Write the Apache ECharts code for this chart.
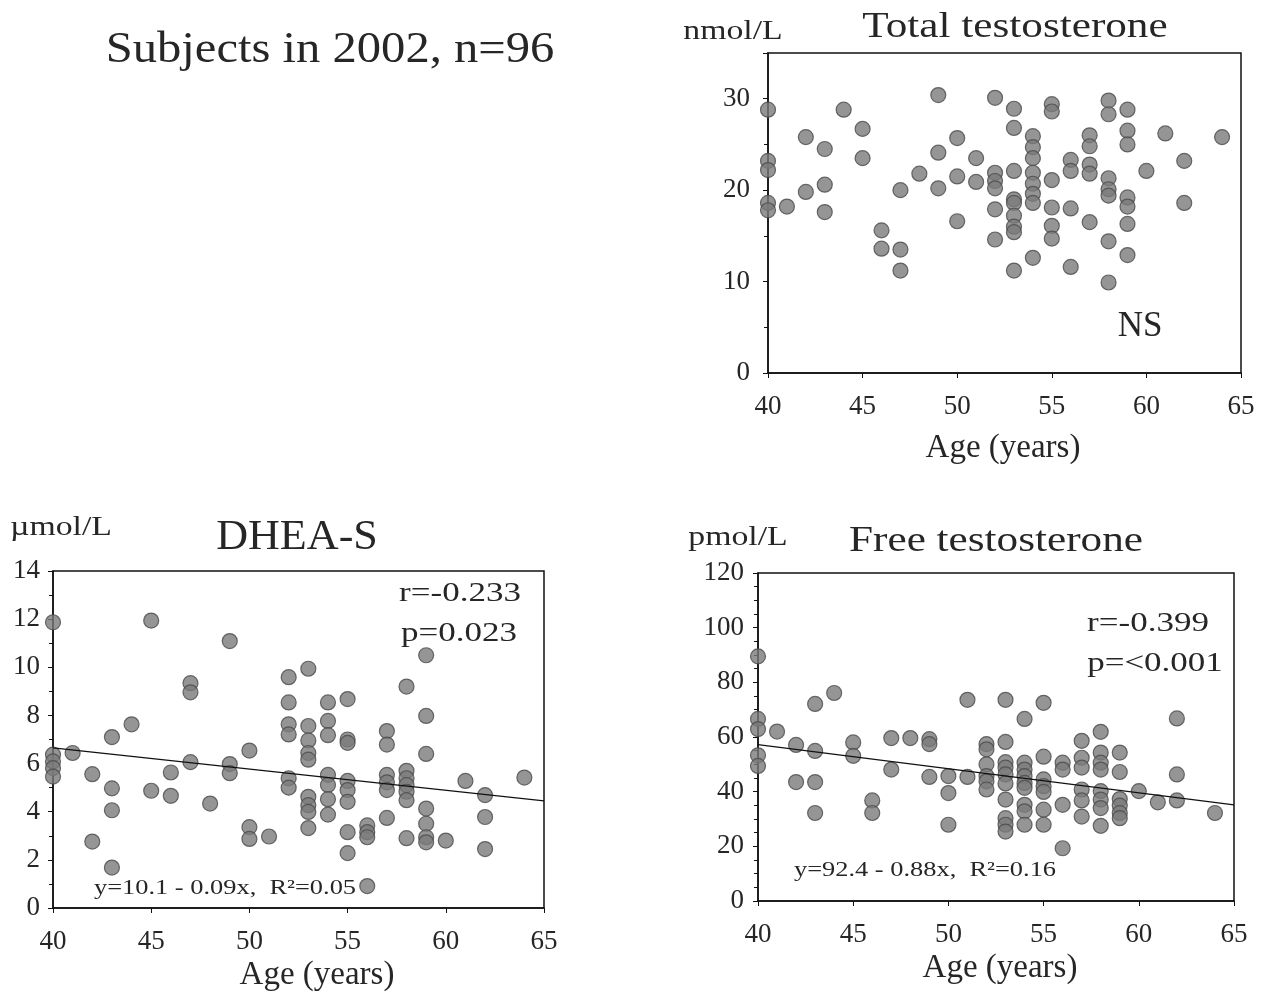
<!DOCTYPE html>
<html>
<head>
<meta charset="utf-8">
<style>
  html, body { margin: 0; padding: 0; background: #fff; }
  #chart { width: 1263px; height: 994px; }
</style>
<script src="https://cdn.jsdelivr.net/npm/echarts@6/dist/echarts.min.js"></script>
</head>
<body>
<div id="chart"></div>
<script>
// ages 40..65, values
const ageTicks = [40, 45, 50, 55, 60, 65];

const totalT = [
  [40, 28.8], [40, 23.2], [40, 22.2], [40, 18.6], [40, 17.8], [41, 18.2],
  [42, 25.8], [42, 19.8], [43, 24.5], [43, 20.6], [43, 17.6], [44, 28.8],
  [45, 26.7], [45, 23.5], [46, 15.6], [46, 13.6], [47, 13.5], [47, 11.2],
  [47, 20.0], [48, 21.8], [49, 30.4], [49, 24.1], [49, 20.2], [50, 25.7],
  [50, 21.5], [50, 16.6], [51, 23.5], [51, 20.9], [52, 30.1], [52, 21.9],
  [52, 21.0], [52, 20.2], [52, 17.9], [52, 14.6], [53, 28.9], [53, 26.8],
  [53, 22.1], [53, 19.0], [53, 18.6], [53, 17.2], [53, 16.0], [53, 15.4],
  [53, 11.2], [54, 25.9], [54, 24.7], [54, 23.5], [54, 21.9], [54, 20.7],
  [54, 19.6], [54, 18.6], [54, 12.6], [55, 29.4], [55, 28.6], [55, 21.1],
  [55, 18.1], [55, 16.1], [55, 14.7], [56, 23.3], [56, 22.1], [56, 18.0],
  [56, 11.6], [57, 26.0], [57, 24.8], [57, 22.8], [57, 21.8], [57, 16.5],
  [58, 29.8], [58, 28.3], [58, 21.3], [58, 20.1], [58, 19.4], [58, 14.4],
  [58, 9.9], [59, 28.8], [59, 26.5], [59, 25.0], [59, 19.2], [59, 18.2],
  [59, 16.3], [59, 12.9], [60, 22.1], [61, 26.2], [62, 23.2], [62, 18.6],
  [64, 25.8]
];

const dheas = [
  [40, 11.87], [40, 6.37], [40, 6.09], [40, 5.81], [40, 5.46], [41, 6.44],
  [42, 5.56], [42, 2.76], [43, 7.10], [43, 4.97], [43, 4.06], [43, 1.68],
  [44, 7.63], [45, 11.94], [45, 4.87], [46, 5.63], [46, 4.66], [47, 9.34],
  [47, 8.96], [47, 6.06], [48, 4.34], [49, 11.09], [49, 5.98], [49, 5.60],
  [50, 6.54], [50, 3.36], [50, 2.87], [51, 2.97], [52, 9.59], [52, 8.54],
  [52, 7.63], [52, 7.21], [52, 5.39], [52, 5.00], [53, 9.94], [53, 7.56],
  [53, 6.96], [53, 6.44], [53, 6.16], [53, 4.62], [53, 4.27], [53, 3.99],
  [53, 3.32], [54, 8.54], [54, 7.77], [54, 7.18], [54, 5.53], [54, 5.11],
  [54, 4.52], [54, 3.88], [55, 8.68], [55, 7.00], [55, 6.86], [55, 5.28],
  [55, 4.90], [55, 4.41], [55, 3.15], [55, 2.28], [56, 3.43], [56, 3.15],
  [56, 2.94], [56, 0.91], [57, 7.35], [57, 6.79], [57, 5.53], [57, 5.22],
  [57, 4.90], [57, 3.74], [58, 9.20], [58, 5.70], [58, 5.39], [58, 5.11],
  [58, 4.83], [58, 4.48], [58, 2.90], [59, 10.5], [59, 7.98], [59, 6.40],
  [59, 4.13], [59, 3.50], [59, 2.94], [59, 2.73], [60, 2.80], [61, 5.28],
  [62, 4.69], [62, 3.78], [62, 2.45], [64, 5.42]
];

const freeT = [
  [40, 89.5], [40, 66.6], [40, 62.9], [40, 53.3], [40, 49.4], [41, 62.0],
  [42, 57.1], [42, 43.5], [43, 72.1], [43, 54.9], [43, 43.5], [43, 32.2],
  [44, 76.1], [45, 58.0], [45, 53.1], [46, 36.8], [46, 32.2], [47, 59.6],
  [47, 48.1], [48, 59.6], [49, 59.2], [49, 57.4], [49, 45.4], [50, 45.7],
  [50, 39.5], [50, 27.9], [51, 73.6], [51, 45.4], [52, 57.4], [52, 55.5],
  [52, 50.0], [52, 45.7], [52, 43.8], [52, 40.8], [53, 73.6], [53, 58.2],
  [53, 50.8], [53, 48.8], [53, 46.3], [53, 43.0], [53, 37.1], [53, 30.3],
  [53, 27.9], [53, 25.4], [54, 66.6], [54, 50.6], [54, 48.1], [54, 45.7],
  [54, 43.2], [54, 41.4], [54, 35.2], [54, 32.8], [54, 27.9], [55, 72.5],
  [55, 52.8], [55, 44.5], [55, 42.0], [55, 39.9], [55, 33.4], [55, 27.9],
  [56, 50.6], [56, 48.1], [56, 35.2], [56, 19.3], [57, 58.6], [57, 52.4],
  [57, 48.8], [57, 40.8], [57, 36.8], [57, 30.9], [58, 61.9], [58, 54.3],
  [58, 50.6], [58, 48.1], [58, 40.2], [58, 37.1], [58, 34.0], [58, 27.5],
  [59, 54.3], [59, 47.2], [59, 37.3], [59, 34.9], [59, 32.2], [59, 30.3],
  [60, 40.2], [61, 36.1], [62, 66.8], [62, 46.3], [62, 36.8], [64, 32.2]
];

// regression lines: y = a + b * age
const dheasFit = [10.17, -0.088];
const freeFit = [92.4, -0.88];

const fitLine = ([a, b]) => [ageTicks[0], ageTicks[ageTicks.length - 1]].map(x => [x, a + b * x]);

const FONT = '"Liberation Serif", "DejaVu Serif", serif';
const INK = '#262626';

const myChart = echarts.init(document.getElementById('chart'));

const grids = [
  { left: 768, top: 53, width: 473, height: 320 },
  { left: 53, top: 571, width: 491, height: 337 },
  { left: 758, top: 573, width: 476, height: 328 }
].map(g => Object.assign(g, { show: true, borderColor: '#111', borderWidth: 1.5, backgroundColor: 'transparent' }));

const xAxis = [0, 1, 2].map(i => ({
  type: 'value',
  gridIndex: i,
  min: 40,
  max: 65,
  interval: 5,
  axisLine: { show: true, onZero: false, lineStyle: { color: '#111', width: 1.5 } },
  axisTick: { show: true, length: 5, lineStyle: { color: '#111' } },
  splitLine: { show: false },
  axisLabel: { fontFamily: FONT, fontSize: 27, color: INK, margin: 20 }
}));

const yAxis = [
  { max: 35, interval: 10, minor: 2, margin: 18 },
  { max: 14, interval: 2, minor: 2, margin: 13 },
  { max: 120, interval: 20, minor: 4, margin: 14 }
].map((a, i) => ({
  type: 'value',
  gridIndex: i,
  min: 0,
  max: a.max,
  interval: a.interval,
  axisLine: { show: true, onZero: false, lineStyle: { color: '#111', width: 1.5 } },
  axisTick: { show: true, length: 5, lineStyle: { color: '#111' } },
  minorTick: { show: true, splitNumber: a.minor, length: 4, lineStyle: { color: '#111' } },
  splitLine: { show: false },
  axisLabel: {
    fontFamily: FONT, fontSize: 27, color: INK, margin: a.margin,
    // max of the top panel (35) is not a labelled tick
    formatter: v => (v % a.interval === 0 ? String(v) : '')
  }
}));

const dotStyle = { color: '#7b7b7b', borderColor: '#4a4a4a', borderWidth: 1.2 };

const scatter = (data, i) => ({
  type: 'scatter',
  xAxisIndex: i,
  yAxisIndex: i,
  data,
  symbolSize: 15,
  itemStyle: dotStyle,
  silent: true,
  z: 3
});

const line = (fit, i) => ({
  type: 'line',
  xAxisIndex: i,
  yAxisIndex: i,
  data: fitLine(fit),
  symbol: 'none',
  lineStyle: { color: '#111', width: 1.3 },
  silent: true,
  z: 4
});

// text centred on (cx, cy), stretched a little sideways like the scanned figure
const label = (text, cx, cy, size, sx = 1) => ({
  type: 'text',
  x: cx,
  y: cy,
  scaleX: sx,
  style: { text, fontFamily: FONT, fontSize: size, fill: INK, textAlign: 'center', textVerticalAlign: 'middle' }
});

const option = {
  animation: false,
  backgroundColor: '#fff',
  grid: grids,
  xAxis,
  yAxis,
  series: [
    scatter(totalT, 0),
    scatter(dheas, 1),
    line(dheasFit, 1),
    scatter(freeT, 2),
    line(freeFit, 2)
  ],
  graphic: [
    label('Subjects in 2002, n=96', 330, 50, 45, 1.08),
    label('Total testosterone', 1015, 28, 36, 1.2),
    label('nmol/L', 733, 32, 27, 1.25),
    label('NS', 1140, 327, 35),
    label('Age (years)', 1003, 448, 33),
    label('\u00b5mol/L', 61, 528, 27, 1.25),
    label('DHEA-S', 297, 538, 42, 1.05),
    label('r=-0.233', 460, 594, 28, 1.25),
    label('p=0.023', 459, 634, 28, 1.25),
    label('y=10.1 - 0.09x,  R\u00b2=0.05', 225, 888, 22, 1.2),
    label('Age (years)', 317, 975, 33),
    label('pmol/L', 738, 538, 27, 1.25),
    label('Free testosterone', 996, 542, 36, 1.2),
    label('r=-0.399', 1148, 624, 28, 1.25),
    label('p=<0.001', 1155, 664, 28, 1.25),
    label('y=92.4 - 0.88x,  R\u00b2=0.16', 925, 870, 22, 1.2),
    label('Age (years)', 1000, 968, 33)
  ]
};

myChart.setOption(option);
</script>
</body>
</html>
